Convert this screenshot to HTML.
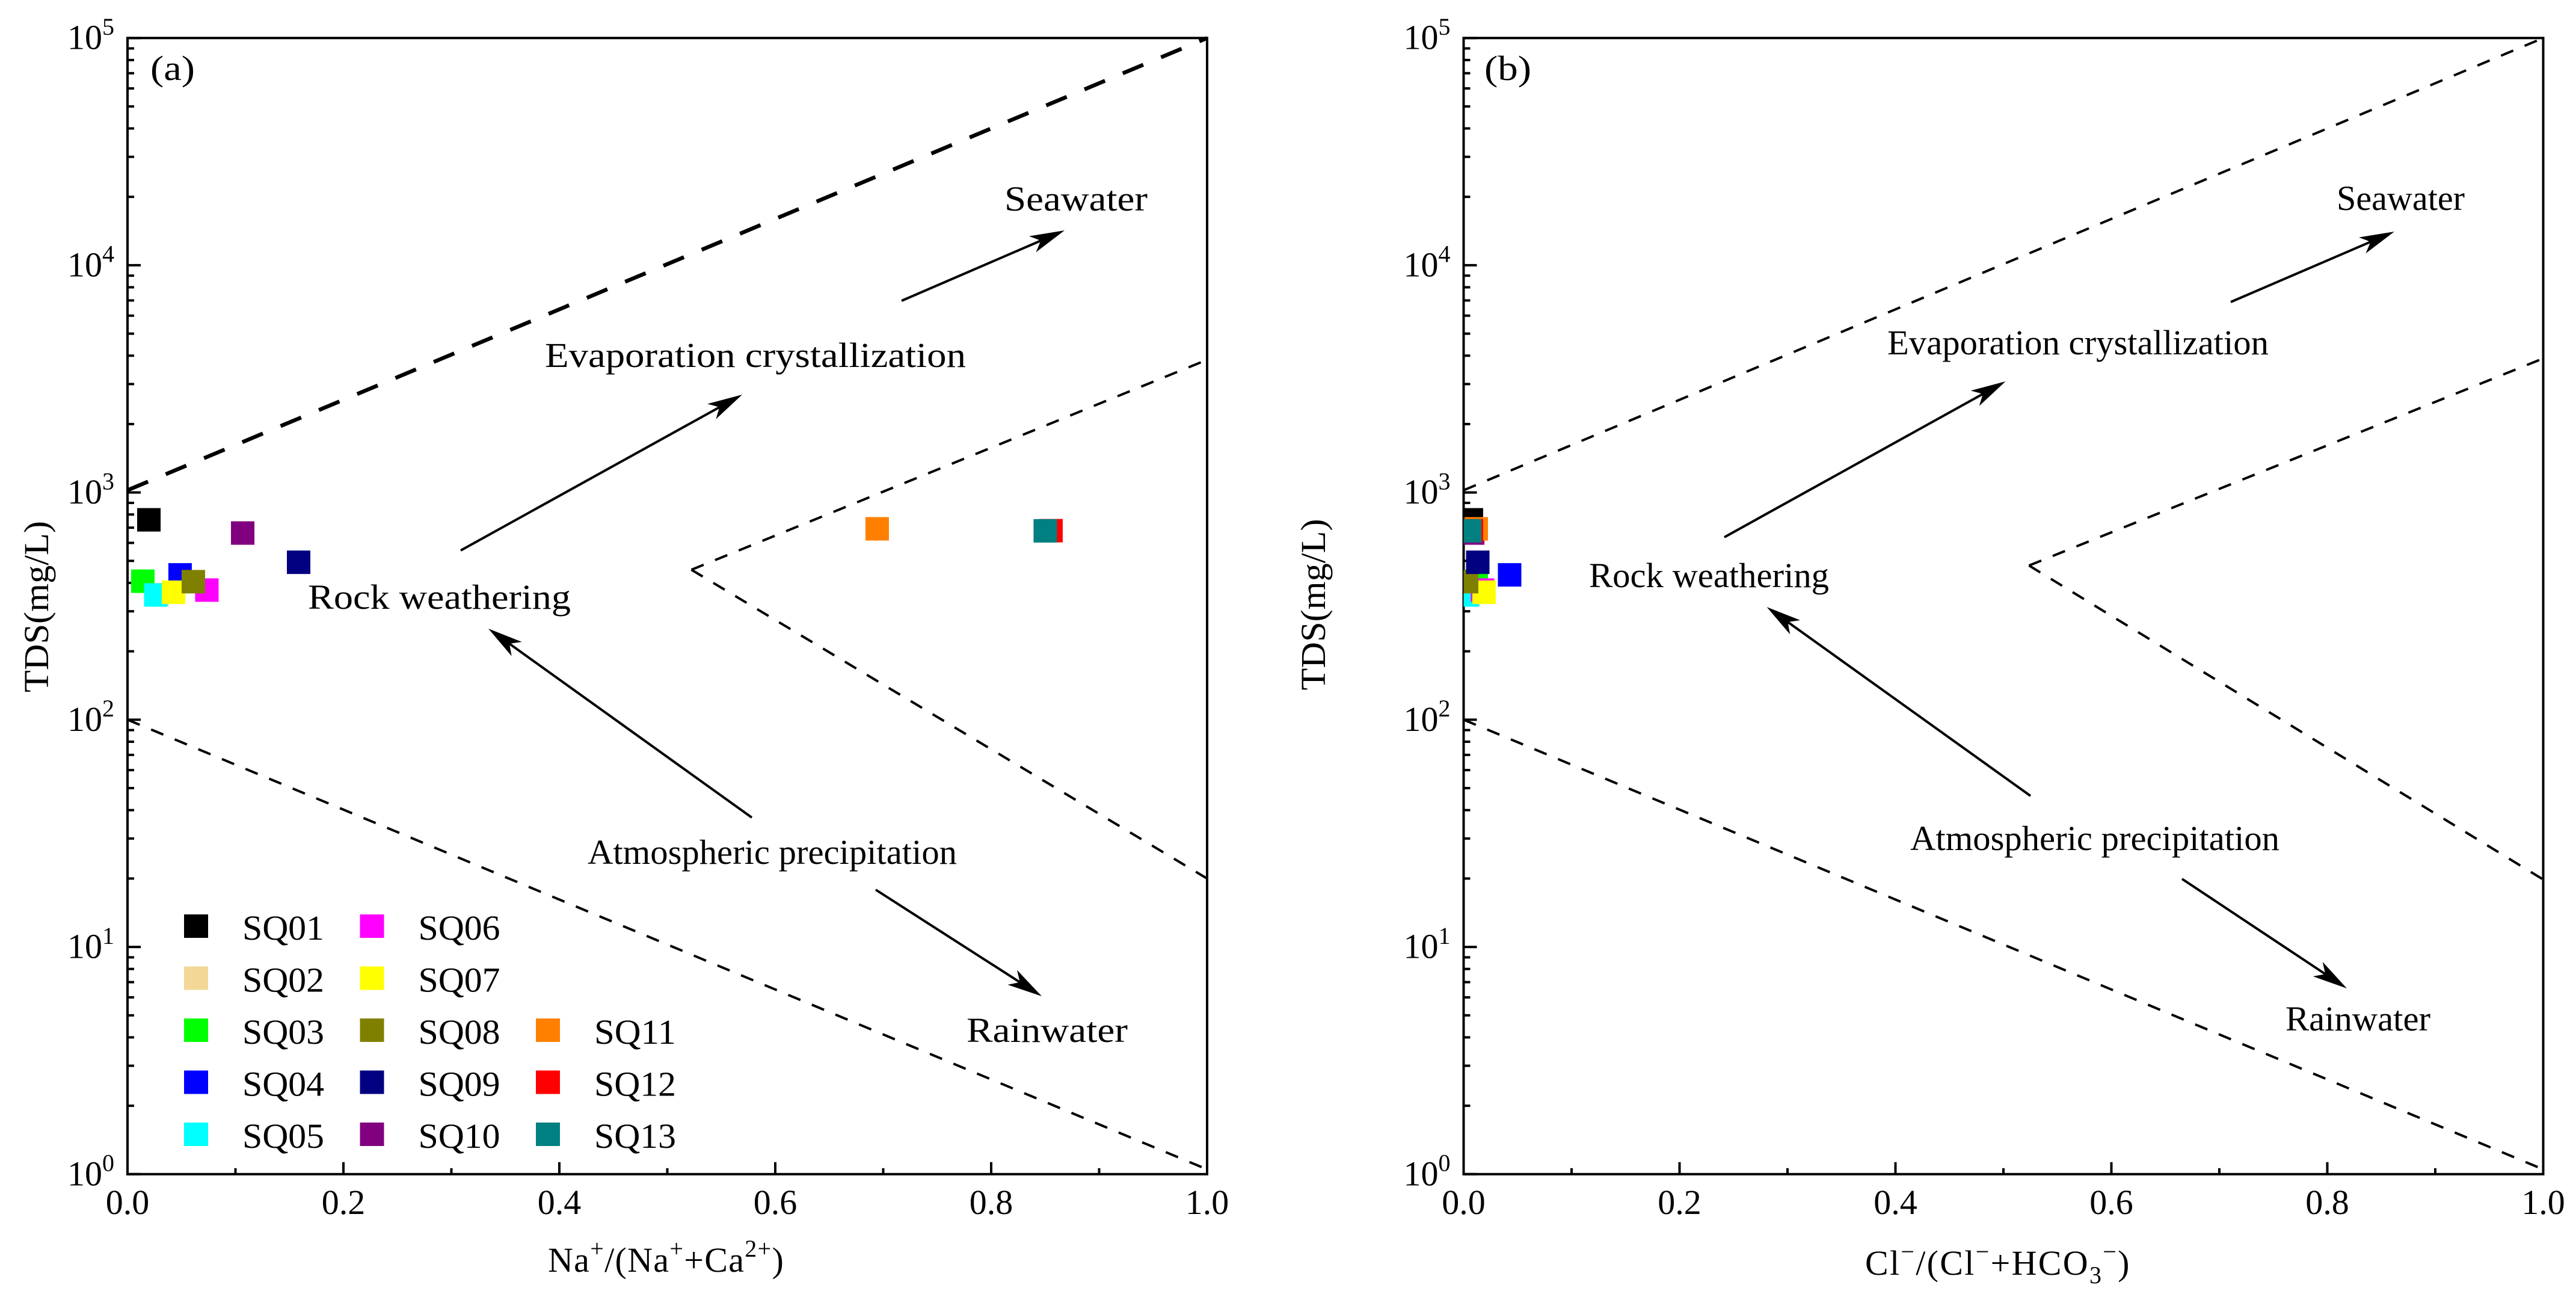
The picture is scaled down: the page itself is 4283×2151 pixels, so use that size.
<!DOCTYPE html>
<html lang="en">
<head>
<meta charset="utf-8">
<title>TDS Gibbs diagrams</title>
<style>
html,body{margin:0;padding:0;background:#fff;}
svg{display:block;}
text{font-family:"Liberation Serif",serif;font-size:58px;fill:#000;}
.sup{font-size:40px;}
</style>
</head>
<body>
<svg id="chart" xmlns="http://www.w3.org/2000/svg" width="4283" height="2151" viewBox="0 0 4283 2151">
  <rect width="4283" height="2151" fill="#ffffff"/>
  <defs>
    <clipPath id="clip-a"><rect x="212" y="63" width="1795" height="1889"/></clipPath>
    <clipPath id="clip-b"><rect x="2433.5" y="63" width="1795" height="1889"/></clipPath>
  </defs>
  <g id="panel-a"></g>
  <g id="panel-b"></g>

  <text x="250" y="133" textLength="74" lengthAdjust="spacingAndGlyphs">(a)</text>
  <text x="2468" y="133" textLength="78" lengthAdjust="spacingAndGlyphs">(b)</text>

  <text x="80" y="1008.5" text-anchor="middle" transform="rotate(-90 80 1008.5)" textLength="285" lengthAdjust="spacingAndGlyphs">TDS(mg/L)</text>
  <text x="2203" y="1005" text-anchor="middle" transform="rotate(-90 2203 1005)" textLength="285" lengthAdjust="spacingAndGlyphs">TDS(mg/L)</text>

  <text x="911" y="2114" letter-spacing="1.3">Na<tspan class="sup" dy="-25">+</tspan><tspan dy="25">/(Na</tspan><tspan class="sup" dy="-25">+</tspan><tspan dy="25">+Ca</tspan><tspan class="sup" dy="-25">2+</tspan><tspan dy="25">)</tspan></text>
  <text x="3101" y="2119" letter-spacing="2.3">Cl<tspan class="sup" dy="-25">−</tspan><tspan dy="25">/(Cl</tspan><tspan class="sup" dy="-25">−</tspan><tspan dy="25">+HCO</tspan><tspan class="sup" dy="14">3</tspan><tspan class="sup" dy="-39">−</tspan><tspan dy="25">)</tspan></text>

  <text x="1670" y="350" textLength="238" lengthAdjust="spacingAndGlyphs">Seawater</text>
  <text x="906" y="610" textLength="700" lengthAdjust="spacingAndGlyphs">Evaporation crystallization</text>
  <text x="512" y="1012" textLength="437" lengthAdjust="spacingAndGlyphs">Rock weathering</text>
  <text x="977" y="1436" textLength="614" lengthAdjust="spacingAndGlyphs">Atmospheric precipitation</text>
  <text x="1607" y="1732" textLength="268" lengthAdjust="spacingAndGlyphs">Rainwater</text>

  <text x="3885" y="349" textLength="213" lengthAdjust="spacingAndGlyphs">Seawater</text>
  <text x="3138" y="589" textLength="634" lengthAdjust="spacingAndGlyphs">Evaporation crystallization</text>
  <text x="2642" y="976" textLength="399" lengthAdjust="spacingAndGlyphs">Rock weathering</text>
  <text x="3176" y="1413" textLength="614" lengthAdjust="spacingAndGlyphs">Atmospheric precipitation</text>
  <text x="3800" y="1713" textLength="241" lengthAdjust="spacingAndGlyphs">Rainwater</text>

  <g id="arrows"></g>
  <g id="legend"></g>
</svg>
<script>
// ---- chart data ----
const seriesNames = ['SQ01','SQ02','SQ03','SQ04','SQ05','SQ06','SQ07','SQ08','SQ09','SQ10','SQ11','SQ12','SQ13'];
const seriesColors = ['#000000','#f2d797','#00ff00','#0000ff','#00ffff','#ff00ff','#ffff00','#808000','#000080','#800080','#ff8000','#ff0000','#008080'];
const naRatio = [0.0198,0.0273,0.0142,0.0487,0.0262,0.0735,0.0426,0.0610,0.1585,0.1067,0.6944,0.8554,0.8501];
const clRatio = [0.0072,0.0045,0.0117,0.0426,0.0033,0.0175,0.0189,0.0028,0.0131,0.0084,0.0117,0.0072,0.0056];
const tdsValues = [758,355,407,434,354,372,364,405,493,663,692,679,678];

const yDecades = [0,1,2,3,4,5];
const yMinorMultipliers = [2,3,4,5,6,7,8,9];
const xMajorTicks = [0,0.2,0.4,0.6,0.8,1.0];
const xMajorLabels = ['0.0','0.2','0.4','0.6','0.8','1.0'];
const xMinorTicks = [0.1,0.3,0.5,0.7,0.9];

const guideUpperRatio = [0,1];
const guideUpperTds = [1023,100000];
const guideLowerRatio = [0,1];
const guideLowerTds = [100,1.05];
const wedgeRatioA = [0.5223,1];
const wedgeRatioB = [0.5237,1];
const wedgeUpperTdsA = [457,3837];
const wedgeLowerTdsA = [457,20];
const wedgeUpperTdsB = [477,3890];
const wedgeLowerTdsB = [477,19.8];

const NS = 'http://www.w3.org/2000/svg';
const plotWidth = 1795;
const plotTop = 63.2;
const plotBottom = 1951.8;
const decadeHeight = (plotBottom - plotTop) / 5;

function make(tag, parent, attrs) {
  const el = document.createElementNS(NS, tag);
  for (const k in attrs) el.setAttribute(k, attrs[k]);
  parent.appendChild(el);
  return el;
}
function yScale(v) { return plotBottom - Math.log10(v) * decadeHeight; }

function drawGuide(parent, name, xs, ys, xScale, width, dash) {
  const el = make('line', parent, {
    x1: xScale(xs[0]), y1: yScale(ys[0]), x2: xScale(xs[1]), y2: yScale(ys[1]),
    stroke: '#000', 'stroke-width': width, 'stroke-dasharray': dash
  });
  
  
}

function drawPanel(id, x0, ratios, wedgeRatio, wedgeUp, wedgeLow, upperWidth, upperDash) {
  const g = document.getElementById(id);
  const xScale = function (r) { return x0 + r * plotWidth; };

  drawGuide(g, 'upper-boundary-line', guideUpperRatio, guideUpperTds, xScale, upperWidth, upperDash);
  drawGuide(g, 'lower-boundary-line', guideLowerRatio, guideLowerTds, xScale, 4, '22 20.5');
  drawGuide(g, 'wedge-upper-line', wedgeRatio, wedgeUp, xScale, 4, '22 20.5');
  drawGuide(g, 'wedge-lower-line', wedgeRatio, wedgeLow, xScale, 4, '22 20.5');

  const frame = make('rect', g, {
    x: x0, y: plotTop, width: plotWidth, height: plotBottom - plotTop,
    fill: 'none', stroke: '#000', 'stroke-width': 4
  });
  
  

  yDecades.forEach(function (d) {
    const v = Math.pow(10, d);
    const y = yScale(v);
    const tick = make('line', g, { x1: x0, x2: x0 + 22, y1: y, y2: y, stroke: '#000', 'stroke-width': 4 });
    
    

    const label = make('text', g, { x: x0 - 100, y: y + 18.5 });
    
    
    label.appendChild(document.createTextNode('10'));
    const sup = make('tspan', label, { 'class': 'sup', dy: -23.7 });
    sup.textContent = String(d);

    if (d < 5) {
      yMinorMultipliers.forEach(function (m) {
        const ym = yScale(v * m);
        const minor = make('line', g, { x1: x0, x2: x0 + 11, y1: ym, y2: ym, stroke: '#000', 'stroke-width': 4 });
        
        
      });
    }
  });

  xMajorTicks.forEach(function (r, i) {
    const x = xScale(r);
    if (i > 0 && i < xMajorTicks.length - 1) {
      const tick = make('line', g, { x1: x, x2: x, y1: plotBottom, y2: plotBottom - 20, stroke: '#000', 'stroke-width': 4 });
      
      
    }
    const label = make('text', g, { x: x, y: 2018, 'text-anchor': 'middle' });
    
    
    label.textContent = xMajorLabels[i];
  });
  xMinorTicks.forEach(function (r) {
    const x = xScale(r);
    const tick = make('line', g, { x1: x, x2: x, y1: plotBottom, y2: plotBottom - 10, stroke: '#000', 'stroke-width': 4 });
    
    
  });

  const points = make('g', g, { 'clip-path': 'url(#clip-' + id.slice(-1) + ')' });
  
  
  seriesNames.forEach(function (name, i) {
    const size = 39;
    const pt = make('rect', points, {
      x: xScale(ratios[i]) - size / 2, y: yScale(tdsValues[i]) - size / 2,
      width: size, height: size, fill: seriesColors[i]
    });
    
    
  });
}

drawPanel('panel-a', 212, naRatio, wedgeRatioA, wedgeUpperTdsA, wedgeLowerTdsA, 6.5, '37 32');
drawPanel('panel-b', 2433.5, clRatio, wedgeRatioB, wedgeUpperTdsB, wedgeLowerTdsB, 4, '22 20.5');

// ---- legend ----
const legendRoot = document.getElementById('legend');
seriesNames.forEach(function (name, i) {
  const col = i < 5 ? 0 : (i < 10 ? 1 : 2);
  const row = i < 5 ? i : (i < 10 ? i - 5 : i - 8);
  const sx = 306 + col * 292.5;
  const sy = 1520 + row * 86.5;
  const sw = make('rect', legendRoot, { x: sx, y: sy, width: 40, height: 39, fill: seriesColors[i] });
  
  
  const tx = make('text', legendRoot, { x: sx + 97, y: sy + 42, textLength: 136, lengthAdjust: 'spacingAndGlyphs' });
  
  
  tx.textContent = name;
});

// ---- annotation arrows ----
const arrowRoot = document.getElementById('arrows');
function arrow(name, x1, y1, x2, y2) {
  const angle = Math.atan2(y2 - y1, x2 - x1);
  const len = Math.hypot(x2 - x1, y2 - y1);
  const g = make('g', arrowRoot, { transform: 'translate(' + x2 + ' ' + y2 + ') rotate(' + (angle * 180 / Math.PI) + ')' });
  
  
  make('line', g, { x1: -len, y1: 0, x2: -40, y2: 0, stroke: '#000', 'stroke-width': 4 });
  make('polygon', g, { points: '0,0 -58,-14.5 -43,0 -58,14.5', fill: '#000' });
}
arrow('seawater-arrow-a', 1499, 500, 1770, 383);
arrow('evaporation-arrow-a', 766, 915, 1234, 656);
arrow('rock-weathering-arrow-a', 1250, 1359, 812, 1045);
arrow('rainwater-arrow-a', 1456, 1479, 1732, 1656);
arrow('seawater-arrow-b', 3709, 502, 3981, 385);
arrow('evaporation-arrow-b', 2867, 893, 3334.5, 634);
arrow('rock-weathering-arrow-b', 3376, 1323, 2937.5, 1009);
arrow('rainwater-arrow-b', 3628, 1461, 3902, 1643);
</script>
</body>
</html>
